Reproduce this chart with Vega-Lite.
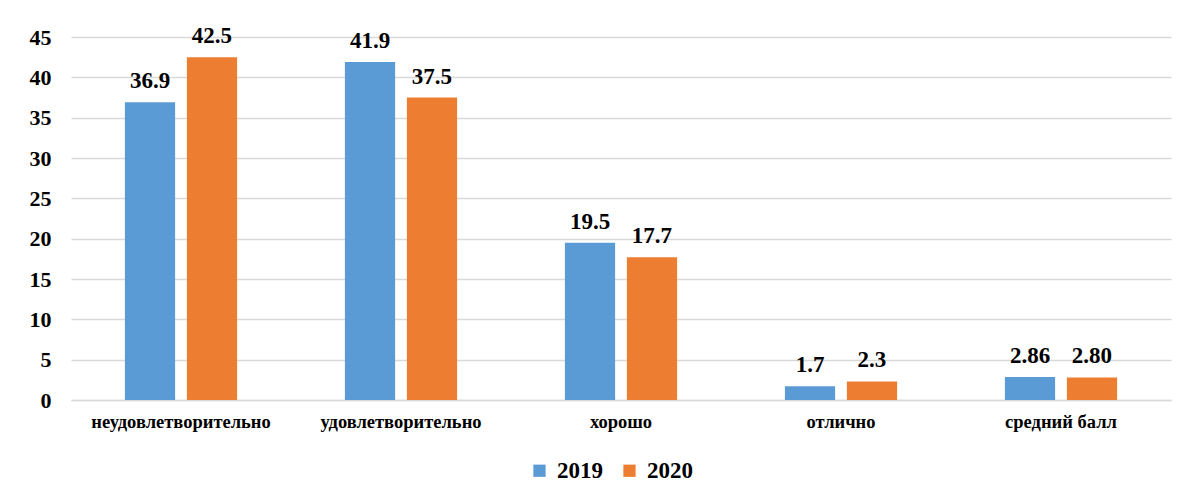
{
  "$schema": "https://vega.github.io/schema/vega-lite/v6.json",
  "autosize": "none",
  "width": 1100,
  "height": 363,
  "padding": {"left": 71, "top": 37, "right": 14, "bottom": 100},
  "background": "white",
  "config": {
    "view": {"stroke": null},
    "font": "Liberation Serif"
  },
  "data": {
    "values": [
      {"cat": "неудовлетворительно", "year": "2019", "value": 36.9, "label": "36.9"},
      {"cat": "неудовлетворительно", "year": "2020", "value": 42.5, "label": "42.5"},
      {"cat": "удовлетворительно", "year": "2019", "value": 41.9, "label": "41.9"},
      {"cat": "удовлетворительно", "year": "2020", "value": 37.5, "label": "37.5"},
      {"cat": "хорошо", "year": "2019", "value": 19.5, "label": "19.5"},
      {"cat": "хорошо", "year": "2020", "value": 17.7, "label": "17.7"},
      {"cat": "отлично", "year": "2019", "value": 1.7, "label": "1.7"},
      {"cat": "отлично", "year": "2020", "value": 2.3, "label": "2.3"},
      {"cat": "средний балл", "year": "2019", "value": 2.86, "label": "2.86"},
      {"cat": "средний балл", "year": "2020", "value": 2.80, "label": "2.80"}
    ]
  },
  "encoding": {
    "x": {
      "field": "cat", "type": "nominal", "sort": null,
      "scale": {"paddingInner": 0.49, "paddingOuter": 0.245},
      "axis": {
        "title": null, "labelAngle": 0, "ticks": false,
        "domainColor": "#d9d9d9", "domainWidth": 1.5,
        "labelFont": "Liberation Serif", "labelFontWeight": "bold",
        "labelFontSize": 18.5, "labelColor": "#000000", "labelPadding": 12
      }
    },
    "xOffset": {"field": "year", "type": "nominal", "scale": {"paddingInner": 0.19}},
    "y": {
      "field": "value", "type": "quantitative",
      "scale": {"domain": [0, 45]},
      "axis": {
        "title": null, "values": [0, 5, 10, 15, 20, 25, 30, 35, 40, 45],
        "domain": false, "ticks": false,
        "gridColor": "#d9d9d9", "gridWidth": 1.5,
        "labelFont": "Liberation Serif", "labelFontWeight": "bold",
        "labelFontSize": 22, "labelColor": "#000000", "labelPadding": 20
      }
    }
  },
  "layer": [
    {
      "mark": {"type": "bar"},
      "encoding": {
        "color": {
          "field": "year", "type": "nominal",
          "scale": {"domain": ["2019", "2020"], "range": ["#5B9BD5", "#ED7D31"]},
          "legend": {
            "title": null, "orient": "none", "direction": "horizontal",
            "legendX": 457, "legendY": 422,
            "symbolType": "square", "symbolSize": 150, "symbolStrokeWidth": 0,
            "labelFont": "Liberation Serif", "labelFontWeight": "bold",
            "labelFontSize": 23, "labelColor": "#000000",
            "columnPadding": 15, "labelOffset": 6
          }
        }
      }
    },
    {
      "mark": {
        "type": "text", "baseline": "bottom", "dy": -9,
        "font": "Liberation Serif", "fontWeight": "bold", "fontSize": 23, "color": "#000000"
      },
      "encoding": {"text": {"field": "label", "type": "nominal"}}
    }
  ]
}
